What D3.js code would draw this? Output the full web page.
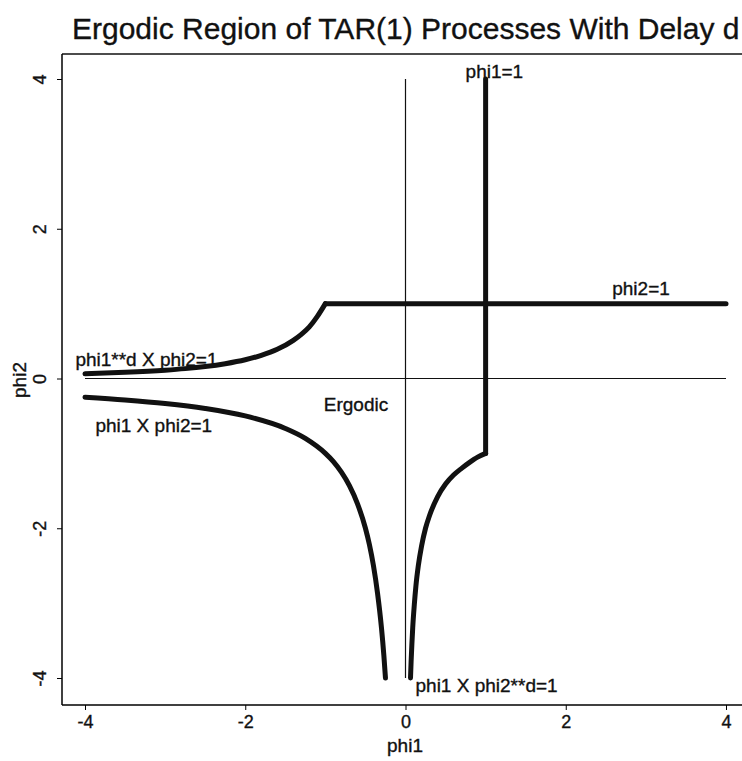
<!DOCTYPE html>
<html>
<head>
<meta charset="utf-8">
<script src="https://cdn.jsdelivr.net/npm/d3@7"></script>
<style>
  body { margin: 0; background: #fff; }
  svg { font-family: "Liberation Sans", Arial, sans-serif; }
  svg text { stroke: #111; stroke-width: 0.35px; }
  .tick text { font-size: 18px; fill: #111; }
</style>
</head>
<body>
<div id="chart"></div>
<script>
const width = 742, height = 761;

// curves, [phi1, phi2]
const upperLeft = [[-4, 0.0625], [-3.5, 0.082], [-3, 0.111], [-2.75, 0.132], [-2.5, 0.16],
  [-2.25, 0.198], [-2, 0.25], [-1.8, 0.309], [-1.6, 0.39], [-1.4, 0.51], [-1.3, 0.59],
  [-1.2, 0.69], [-1.1, 0.83], [-1, 1]];
const phi2Line = [[-1, 1], [4, 1]];
const lowerLeft = [[-4, -0.25], [-3.5, -0.286], [-3, -0.333], [-2.5, -0.4], [-2, -0.5],
  [-1.5, -0.667], [-1.25, -0.8], [-1, -1], [-0.9, -1.11], [-0.8, -1.25], [-0.7, -1.43],
  [-0.6, -1.67], [-0.5, -2], [-0.45, -2.22], [-0.4, -2.5], [-0.35, -2.86], [-0.3, -3.33],
  [-0.27, -3.7], [-0.25, -4]];
const lowerRight = [[0.0625, -4], [0.07, -3.78], [0.08, -3.54], [0.09, -3.33], [0.11, -3.02],
  [0.13, -2.77], [0.16, -2.5], [0.2, -2.24], [0.25, -2], [0.3, -1.83], [0.4, -1.58],
  [0.5, -1.41], [0.6, -1.29], [0.7, -1.2], [0.8, -1.12], [0.9, -1.05], [1, -1]];
const phi1Line = [[1, -1], [1, 4]];
const zeroH = [[-4, 0], [4, 0]];
const zeroV = [[0, -4], [0, 4]];

const xTicks = [-4, -2, 0, 2, 4];
const yTicks = [-4, -2, 0, 2, 4];

const labels = [
  {text: "phi1=1", x: 0.75, y: 4.02},
  {text: "phi2=1", x: 2.58, y: 1.11},
  {text: "phi1**d X phi2=1", x: -4.12, y: 0.17},
  {text: "Ergodic", x: -1.02, y: -0.43},
  {text: "phi1 X phi2=1", x: -3.87, y: -0.72},
  {text: "phi1 X phi2**d=1", x: 0.125, y: -4.19}
];

const x = d3.scaleLinear().domain([-4, 4]).range([85, 726]);
const y = d3.scaleLinear().domain([-4, 4]).range([678, 79]);
const axisX = 62, axisY = 705, topY = 54;

const svg = d3.select("#chart").append("svg")
  .attr("width", width).attr("height", height);

svg.append("text")
  .attr("x", 72).attr("y", 39)
  .attr("font-size", 30)
  .attr("fill", "#111")
  .text("Ergodic Region of TAR(1) Processes With Delay d");

// frame: top, left, bottom
svg.append("line").attr("x1", axisX).attr("x2", width).attr("y1", topY).attr("y2", topY)
  .attr("stroke", "#111").attr("stroke-width", 1.5);

svg.append("g")
  .attr("transform", "translate(0," + axisY + ")")
  .call(d3.axisBottom(x).tickValues(xTicks).tickSize(5).tickPadding(5).tickFormat(d => String(d)))
  .call(g => g.select(".domain").attr("d", "M" + axisX + ",0H" + width).attr("stroke-width", 1.5));

const yAxis = svg.append("g")
  .attr("transform", "translate(" + axisX + ",0)")
  .call(d3.axisLeft(y).tickValues(yTicks).tickSize(5).tickPadding(5).tickFormat(d => String(d)))
  .call(g => g.select(".domain").attr("d", "M0," + topY + "V" + axisY).attr("stroke-width", 1.5));

yAxis.selectAll(".tick text")
  .attr("x", 0).attr("dy", 0)
  .attr("text-anchor", "middle")
  .attr("transform", "translate(-16,0) rotate(-90)");

svg.selectAll(".tick text").attr("font-size", null);

svg.append("text")
  .attr("x", 405).attr("y", 752)
  .attr("text-anchor", "middle").attr("font-size", 19).attr("fill", "#111")
  .text("phi1");

svg.append("text")
  .attr("transform", "translate(26,380) rotate(-90)")
  .attr("text-anchor", "middle").attr("font-size", 19).attr("fill", "#111")
  .text("phi2");

const line = d3.line().x(d => x(d[0])).y(d => y(d[1]));
const curve = d3.line().x(d => x(d[0])).y(d => y(d[1])).curve(d3.curveMonotoneX);

[zeroH, zeroV].forEach(d => {
  svg.append("path").attr("d", line(d))
    .attr("fill", "none").attr("stroke", "#111").attr("stroke-width", 1.2);
});

[upperLeft, lowerLeft, lowerRight].forEach(d => {
  svg.append("path").attr("d", curve(d))
    .attr("fill", "none").attr("stroke", "#111").attr("stroke-width", 5)
    .attr("stroke-linecap", "round");
});

[phi2Line, phi1Line].forEach(d => {
  svg.append("path").attr("d", line(d))
    .attr("fill", "none").attr("stroke", "#111").attr("stroke-width", 5)
    .attr("stroke-linecap", "round");
});

svg.selectAll("text.note")
  .data(labels)
  .enter().append("text")
  .attr("class", "note")
  .attr("x", d => x(d.x)).attr("y", d => y(d.y))
  .attr("font-size", 19).attr("fill", "#111")
  .text(d => d.text);
</script>
</body>
</html>
